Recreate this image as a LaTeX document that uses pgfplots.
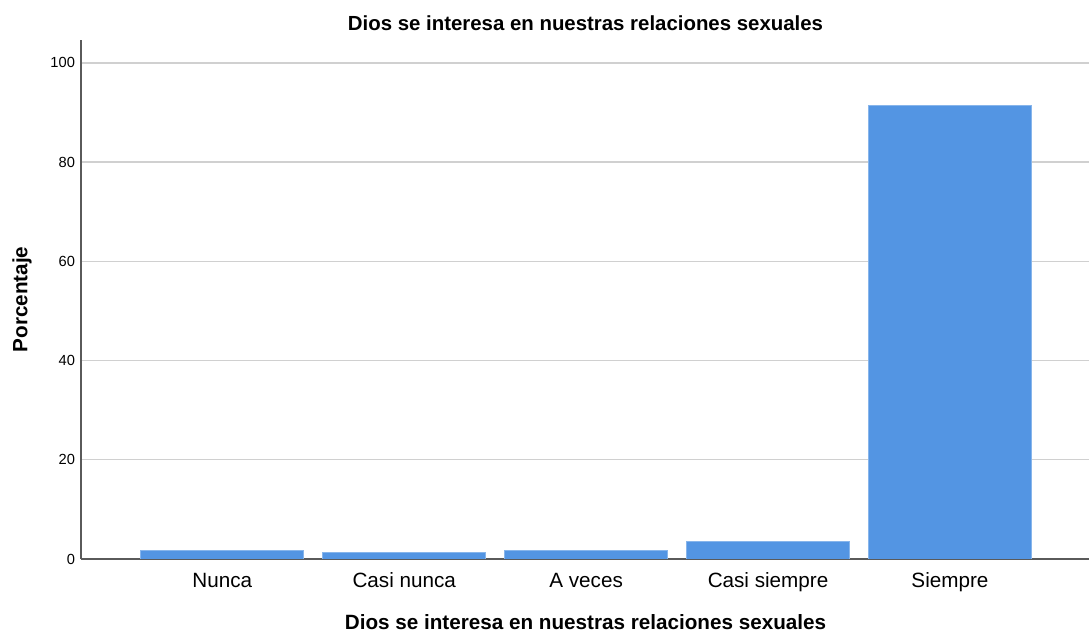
\documentclass[border=0pt]{standalone}
\usepackage{pgfplots}
\pgfplotsset{compat=1.18}
\usepackage{fontspec}
\setmainfont{Liberation Sans}
\definecolor{barblue}{RGB}{83,149,227}
\definecolor{gridgray}{RGB}{208,208,208}
\definecolor{axisgray}{RGB}{90,90,90}
\begin{document}
\begin{tikzpicture}
\begin{axis}[
  scale only axis,
  width=756.75pt, height=389.25pt,
  xmin=-0.777, xmax=4.77,
  ymin=0, ymax=104.6,
  ytick={0,20,40,60,80,100},
  xtick={0,1,2,3,4},
  xticklabels={Nunca,Casi nunca,A veces,Casi siempre,Siempre},
  ymajorgrids, grid style={gridgray, line width=1.1pt},
  axis x line*=bottom, axis y line*=left,
  axis line style={axisgray, line width=0.9pt},
  tick style={draw=none},
  /pgf/number format/assume math mode=true,
  yticklabel style={font=\fontsize{11}{13}\selectfont, xshift=-1pt},
  xticklabel style={font=\fontsize{15.5}{17}\selectfont, anchor=base, yshift=-17.25pt},
  every axis title shift=0pt,
  title={\bfseries Dios se interesa en nuestras relaciones sexuales},
  title style={font=\fontsize{15.3}{17}\selectfont, at={(axis description cs:0.5,1.01734)}, anchor=base},
  xlabel={\bfseries Dios se interesa en nuestras relaciones sexuales},
  xlabel style={font=\fontsize{15.5}{17}\selectfont, at={(axis description cs:0.5,-0.1214)}, anchor=center},
  ylabel={\bfseries Porcentaje},
  ylabel style={font=\fontsize{15.5}{17}\selectfont, at={(axis description cs:-0.0585,0.5)}, anchor=center},
  ybar, bar width=0.896, bar shift=0pt,
]
\addplot[fill=barblue, draw=barblue!70!white, line width=0.6pt] coordinates {
  (0,1.8) (1,1.4) (2,1.8) (3,3.6) (4,91.4)
};
\end{axis}
\pgfresetboundingbox
\path (-60.75pt,-57pt) rectangle (756pt,419.25pt);
\end{tikzpicture}
\end{document}
